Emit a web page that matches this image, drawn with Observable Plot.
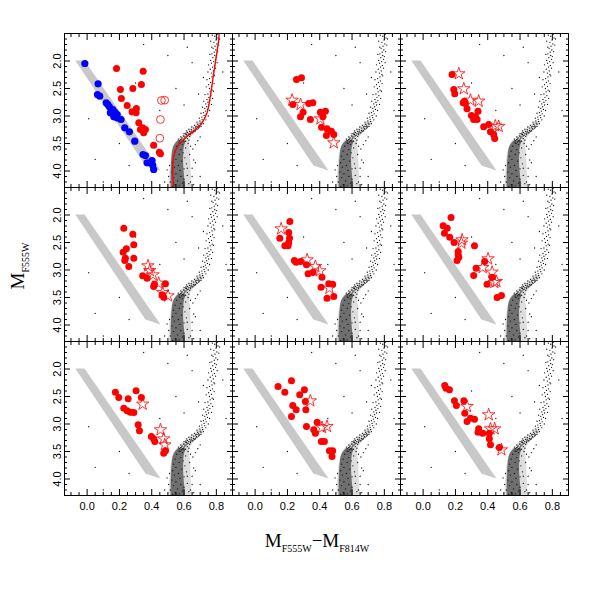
<!DOCTYPE html>
<html><head><meta charset="utf-8">
<script src="https://cdn.jsdelivr.net/npm/d3@7"></script>
<script src="https://cdn.jsdelivr.net/npm/@observablehq/plot@0.6"></script>
<style>body{margin:0;background:#fff}#chart{width:599px;height:599px}</style>
</head><body><div id="chart"></div>
<script>
// ---------- data ----------
const xTicks = [0, 0.2, 0.4, 0.6, 0.8];
const yTicks = [2, 2.5, 3, 3.5, 4];
const xMinor = [-0.1,-0.05,0.05,0.1,0.15,0.25,0.3,0.35,0.45,0.5,0.55,0.65,0.7,0.75,0.85];
const yMinor = [1.6,1.7,1.8,1.9,2.1,2.2,2.3,2.4,2.6,2.7,2.8,2.9,3.1,3.2,3.3,3.4,3.6,3.7,3.8,3.9,4.1,4.2];

// grey band (edges)
const bandMag   = [2.0, 3.91, 4.0];
const bandLeft  = [-0.07, 0.364, 0.457];
const bandRight = [-0.013, 0.436, 0.457];

// dense main-sequence core
const msMag   = [3.45, 3.55, 3.7, 3.9, 4.1, 4.3];
const msLeft  = [0.565, 0.538, 0.527, 0.522, 0.52, 0.52];
const msRight = [0.615, 0.603, 0.598, 0.598, 0.603, 0.608];
// lighter halo around main sequence and subgiant branch
const haloMag   = [3.1, 3.2, 3.3, 3.4, 3.5, 3.7, 4.0, 4.3];
const haloLeft  = [0.69, 0.655, 0.61, 0.575, 0.545, 0.522, 0.512, 0.505];
const haloRight = [0.73, 0.71, 0.675, 0.645, 0.635, 0.64, 0.645, 0.65];

// cluster field stars (same in every panel)
const cmdStars = [
[0.805,1.52],[0.79,1.55],[0.81,1.58],[0.798,1.62],[0.785,1.66],[0.803,1.69],[0.792,1.73],[0.78,1.77],[0.797,1.8],[0.787,1.84],
[0.772,1.87],[0.79,1.9],[0.778,1.94],[0.795,1.97],[0.783,2.01],[0.77,2.04],[0.788,2.08],[0.776,2.11],[0.762,2.15],[0.781,2.18],
[0.769,2.22],[0.785,2.25],[0.773,2.29],[0.758,2.32],[0.776,2.36],[0.764,2.39],[0.752,2.43],[0.77,2.46],[0.757,2.5],[0.774,2.53],
[0.762,2.56],[0.748,2.6],[0.766,2.63],[0.754,2.66],[0.742,2.7],[0.76,2.72],[0.748,2.75],[0.735,2.78],[0.752,2.8],[0.74,2.83],
[0.728,2.86],[0.745,2.88],[0.732,2.91],[0.72,2.94],[0.737,2.96],[0.724,2.99],[0.71,3.02],[0.728,3.03],[0.712,3.06],[0.698,3.09],
[0.715,3.1],[0.7,3.13],[0.685,3.15],[0.69,3.18],[0.672,3.2],[0.66,3.22],[0.676,3.23],[0.645,3.25],[0.658,3.27],[0.635,3.28],
[0.62,3.3],[0.64,3.31],[0.61,3.33],[0.625,3.35],[0.598,3.36],[0.612,3.38],[0.588,3.4],[0.6,3.42],[0.578,3.43],[0.592,3.45],
[0.6,3.37],[0.615,3.34],[0.63,3.32],[0.645,3.29],[0.66,3.26],[0.68,3.24],[0.695,3.2],[0.57,3.45],[0.585,3.42],[0.605,3.4],
[0.62,3.36],[0.65,3.31],[0.667,3.28],[0.585,3.47],[0.575,3.5],[0.595,3.44],[0.612,3.31],[0.64,3.34],[0.68,3.19],[0.705,3.15],
[0.775,1.53],[0.82,1.6],[0.765,1.64],[0.815,1.71],[0.772,1.75],[0.808,1.83],[0.76,1.88],[0.8,1.92],[0.765,1.99],[0.805,2.03],
[0.752,2.07],[0.795,2.13],[0.748,2.2],[0.79,2.27],[0.742,2.34],[0.786,2.41],[0.737,2.47],[0.782,2.55],[0.73,2.61],[0.777,2.68],
[0.722,2.73],[0.77,2.79],[0.715,2.84],[0.758,2.9],[0.705,2.95],[0.75,3.0],[0.695,3.04],[0.735,3.07],[0.68,3.11],[0.72,3.14],
[0.665,3.17],[0.705,3.19],[0.648,3.2],[0.69,3.22],[0.63,3.24],[0.67,3.26],[0.615,3.27],[0.655,3.3],[0.6,3.32],[0.635,3.37],
[0.58,3.38],[0.62,3.41],[0.565,3.42],[0.61,3.46],
[0.53,4.28],[0.545,4.25],[0.57,4.27],[0.59,4.22],[0.515,4.2],[0.56,4.18],[0.6,4.15],[0.535,4.12],[0.58,4.1],[0.62,4.08],
[0.55,4.05],[0.525,4.02],[0.575,3.99],[0.6,3.96],[0.54,3.93],[0.565,3.9],[0.615,3.87],[0.53,3.85],[0.585,3.82],[0.55,3.79],
[0.605,3.76],[0.535,3.73],[0.57,3.7],[0.595,3.67],[0.545,3.64],[0.58,3.61],[0.61,3.58],[0.555,3.55],[0.59,3.52],[0.57,3.49],
[0.6,3.47],[0.63,3.44],[0.64,4.2],[0.65,3.95],[0.635,3.7],[0.505,4.1],[0.51,3.9],[0.655,3.6],[0.625,3.5],[0.66,4.25],
[0.5,4.3],[0.65,4.1],[0.66,3.8],[0.62,3.95],[0.63,4.23],[0.495,3.98],[0.64,3.55],[0.67,3.52],[0.685,3.45],[0.7,3.38],
[0.01,3.05],[0.65,2.03],[0.05,3.79],[0.3,2.4],[0.5,1.9],[0.69,2.6],[0.45,2.9],[0.7,4.1],[0.2,3.5],[0.1,4.2],
[0.48,4.2],[0.72,2.3],[0.6,2.8],[0.55,2.5],[0.86,2.9],[0.35,1.7],[0.26,3.9],[0.67,3.85],[0.84,2.2],[0.62,1.75]
];

// fiducial line (panel 1 only)
const fidColor = [0.536,0.530,0.536,0.567,0.619,0.670,0.711,0.742,0.763,0.784,0.800,0.815,0.817];
const fidMag   = [4.3,3.97,3.73,3.52,3.37,3.245,3.124,2.943,2.64,2.215,1.912,1.6,1.5];

// blue filled circles (panel 1)
const blueDots = [[-0.014,2.045],[0.068,2.415],[0.064,2.609],[0.078,2.64],[0.118,2.761],[0.128,2.791],[0.138,2.833],[0.159,2.882],
[0.144,2.943],[0.171,2.93],[0.186,2.973],[0.165,3.015],[0.186,3.033],[0.21,3.064],[0.233,3.215],[0.262,3.288],[0.295,3.458],
[0.346,3.7],[0.361,3.718],[0.371,3.852],[0.402,3.809],[0.406,3.894],[0.412,3.973]];

// red open circles (panel 1)
const openCircles = [[0.46,2.718],[0.48,2.712],[0.454,3.064],[0.45,3.403]];

// red filled circles, one list per panel
const redDots = [
 [[0.182,2.136],[0.347,2.185],[0.206,2.518],[0.283,2.5],[0.336,2.427],[0.212,2.682],[0.248,2.809],[0.278,2.924],[0.305,2.864],[0.303,2.943],[0.32,3.124],[0.344,3.215],[0.33,3.245],[0.361,3.245],[0.35,3.306],[0.412,3.53],[0.447,3.658],[0.454,3.688]],
 [[0.256,2.336],[0.287,2.306],[0.233,2.791],[0.332,2.773],[0.357,2.761],[0.297,2.93],[0.281,3.015],[0.342,3.064],[0.404,2.93],[0.435,2.912],[0.419,3.015],[0.411,3.203],[0.445,3.233],[0.472,3.276],[0.441,3.355],[0.487,3.336]],
 [[0.179,2.245],[0.19,2.518],[0.196,2.597],[0.256,2.73],[0.262,2.773],[0.248,2.761],[0.272,2.87],[0.34,2.912],[0.299,2.991],[0.324,3.015],[0.313,3.064],[0.334,3.064],[0.375,3.197],[0.406,3.155],[0.417,3.288],[0.437,3.336],[0.443,3.409]],
 [[0.227,2.239],[0.283,2.348],[0.289,2.542],[0.243,2.615],[0.223,2.676],[0.237,2.785],[0.233,2.827],[0.289,2.785],[0.258,2.936],[0.344,3.106],[0.371,3.149],[0.417,3.258],[0.412,3.3],[0.485,3.252],[0.464,3.452],[0.474,3.494]],
 [[0.215,2.118],[0.208,2.318],[0.153,2.421],[0.213,2.421],[0.208,2.5],[0.184,2.561],[0.204,2.561],[0.243,2.827],[0.254,2.858],[0.281,2.845],[0.318,2.906],[0.328,3.07],[0.357,3.045],[0.414,3.13],[0.408,3.312],[0.456,3.252],[0.48,3.258],[0.445,3.512],[0.487,3.482]],
 [[0.173,2.045],[0.124,2.197],[0.149,2.239],[0.132,2.33],[0.165,2.403],[0.192,2.5],[0.217,2.664],[0.217,2.724],[0.221,2.767],[0.21,2.827],[0.318,2.561],[0.381,2.845],[0.328,2.967],[0.313,3.1],[0.427,3.13],[0.396,3.258],[0.458,3.5],[0.485,3.464]],
 [[0.175,2.421],[0.303,2.397],[0.196,2.518],[0.254,2.542],[0.336,2.518],[0.227,2.712],[0.248,2.761],[0.268,2.785],[0.289,2.791],[0.316,3.015],[0.324,3.124],[0.398,3.227],[0.412,3.27],[0.419,3.318],[0.485,3.488],[0.474,3.53]],
 [[0.225,2.215],[0.142,2.318],[0.184,2.421],[0.305,2.379],[0.276,2.47],[0.311,2.591],[0.233,2.664],[0.254,2.742],[0.314,2.742],[0.225,2.864],[0.318,3.045],[0.384,2.967],[0.363,3.106],[0.373,3.167],[0.41,3.318],[0.429,3.318],[0.46,3.488],[0.48,3.488],[0.476,3.591]],
 [[0.134,2.3],[0.142,2.348],[0.163,2.379],[0.194,2.579],[0.206,2.664],[0.252,2.579],[0.258,2.803],[0.272,2.955],[0.293,2.894],[0.318,2.912],[0.344,3.088],[0.34,3.148],[0.369,3.167],[0.41,3.167],[0.41,3.27],[0.417,3.379],[0.472,3.427]]
];

// red open stars, one list per panel
const redStars = [
 [],
 [[0.229,2.712],[0.281,2.791],[0.404,3.052],[0.487,3.488]],
 [[0.221,2.233],[0.252,2.506],[0.293,2.712],[0.344,2.73],[0.447,3.18],[0.468,3.19]],
 [[0.377,2.924],[0.388,3.009],[0.408,3.088],[0.443,3.24],[0.468,3.409],[0.501,3.47]],
 [[0.161,2.252],[0.322,2.815],[0.373,2.936],[0.4,3.015],[0.46,3.33]],
 [[0.241,2.452],[0.237,2.512],[0.402,2.797],[0.369,2.955],[0.427,3.039],[0.441,3.227],[0.454,3.209]],
 [[0.344,2.639],[0.454,3.106],[0.474,3.27],[0.481,3.379]],
 [[0.342,2.579],[0.414,3.064],[0.445,3.045]],
 [[0.272,2.682],[0.406,2.833],[0.417,3.088],[0.443,3.088],[0.485,3.47]]
];

// ---------- build tables ----------
const inPanel = (pts, p) => pts.map(([x, y]) => ({x, y, fx: p % 3, fy: Math.floor(p / 3)}));
const perPanel = (lists) => lists.flatMap((pts, p) => inPanel(pts, p));
const edges = (mag, l, r) => mag.map((m, i) => ({mag: m, left: l[i], right: r[i]}));
const band = edges(bandMag, bandLeft, bandRight);
const ms = edges(msMag, msLeft, msRight);
const halo = edges(haloMag, haloLeft, haloRight);
const cmd = cmdStars.map(([x, y]) => ({x, y}));
const fid = fidColor.map((c, i) => ({x: c, y: fidMag[i], fx: 0, fy: 0}));

const tickOpts = {stroke: "#000", label: null, tickFormat: () => "", facetAnchor: null};

const chart = Plot.plot({
  width: 599, height: 599,
  marginLeft: 64, marginRight: 31, marginTop: 32, marginBottom: 104,
  style: {background: "#fff", fontFamily: "'Liberation Sans', Arial, sans-serif", fontSize: "11px", color: "#000"},
  fx: {domain: [0, 1, 2], padding: 0, axis: null},
  fy: {domain: [0, 1, 2], padding: 0, axis: null},
  x: {domain: [-0.14, 0.9]},
  y: {domain: [1.5, 4.3], reverse: true},
  marks: [
    Plot.areaX(band, {y: "mag", x1: "left", x2: "right", fill: "#c8c8c8"}),
    Plot.areaX(halo, {y: "mag", x1: "left", x2: "right", fill: "#000", fillOpacity: 0.13, curve: "natural"}),
    Plot.areaX(ms, {y: "mag", x1: "left", x2: "right", fill: "#000", fillOpacity: 0.5, curve: "natural"}),
    Plot.dot(cmd, {x: "x", y: "y", r: 0.65, fill: "#111", stroke: null, clip: true}),
    Plot.line(fid, {x: "x", y: "y", fx: "fx", fy: "fy", stroke: "#ff0000", strokeWidth: 1.4, curve: "catmull-rom", clip: true}),
    Plot.dot(inPanel(blueDots, 0), {x: "x", y: "y", fx: "fx", fy: "fy", r: 3.6, fill: "#0000ff", stroke: null}),
    Plot.dot(perPanel(redDots), {x: "x", y: "y", fx: "fx", fy: "fy", r: 3.5, fill: "#ff0000", stroke: null}),
    Plot.dot(inPanel(openCircles, 0), {x: "x", y: "y", fx: "fx", fy: "fy", r: 3.9, fill: "none", stroke: "#ff0000", strokeWidth: 0.8}),
    Plot.dot(perPanel(redStars), {x: "x", y: "y", fx: "fx", fy: "fy", r: 3.9, symbol: "star", fill: "none", stroke: "#ff0000", strokeWidth: 0.8}),
    Plot.frame({stroke: "#000", strokeWidth: 1}),
    Plot.axisX(xTicks, {...tickOpts, anchor: "bottom", tickSize: -6}),
    Plot.axisX(xTicks, {...tickOpts, anchor: "top", tickSize: -6}),
    Plot.axisX(xMinor, {...tickOpts, anchor: "bottom", tickSize: -3}),
    Plot.axisX(xMinor, {...tickOpts, anchor: "top", tickSize: -3}),
    Plot.axisY(yTicks, {...tickOpts, anchor: "left", tickSize: -6}),
    Plot.axisY(yTicks, {...tickOpts, anchor: "right", tickSize: -6}),
    Plot.axisY(yMinor, {...tickOpts, anchor: "left", tickSize: -3}),
    Plot.axisY(yMinor, {...tickOpts, anchor: "right", tickSize: -3}),
    Plot.axisX(xTicks, {anchor: "bottom", tickSize: 0, tickPadding: 7, label: null, fontSize: 11}),
    Plot.axisY(yTicks, {anchor: "left", tickSize: 0, tickPadding: 7, label: null, rotate: -90, textAnchor: "middle", fontSize: 11})
  ]
});
document.getElementById("chart").appendChild(chart);

// axis titles with subscripts
const svg = d3.select(chart);
const serif = "'Liberation Serif', 'Times New Roman', serif";
const yt = svg.append("text").attr("transform", "translate(24,266) rotate(-90)")
  .attr("text-anchor", "middle").attr("font-family", serif).attr("font-size", 19).attr("fill", "#000");
yt.append("tspan").text("M");
yt.append("tspan").attr("font-size", 10).attr("dy", 5).text("F555W");

const xt = svg.append("text").attr("x", 317).attr("y", 547)
  .attr("text-anchor", "middle").attr("font-family", serif).attr("font-size", 19).attr("fill", "#000");
xt.append("tspan").text("M");
xt.append("tspan").attr("font-size", 10).attr("dy", 5).text("F555W");
xt.append("tspan").attr("dy", -5).text("\u2212M");
xt.append("tspan").attr("font-size", 10).attr("dy", 5).text("F814W");
</script></body></html>
